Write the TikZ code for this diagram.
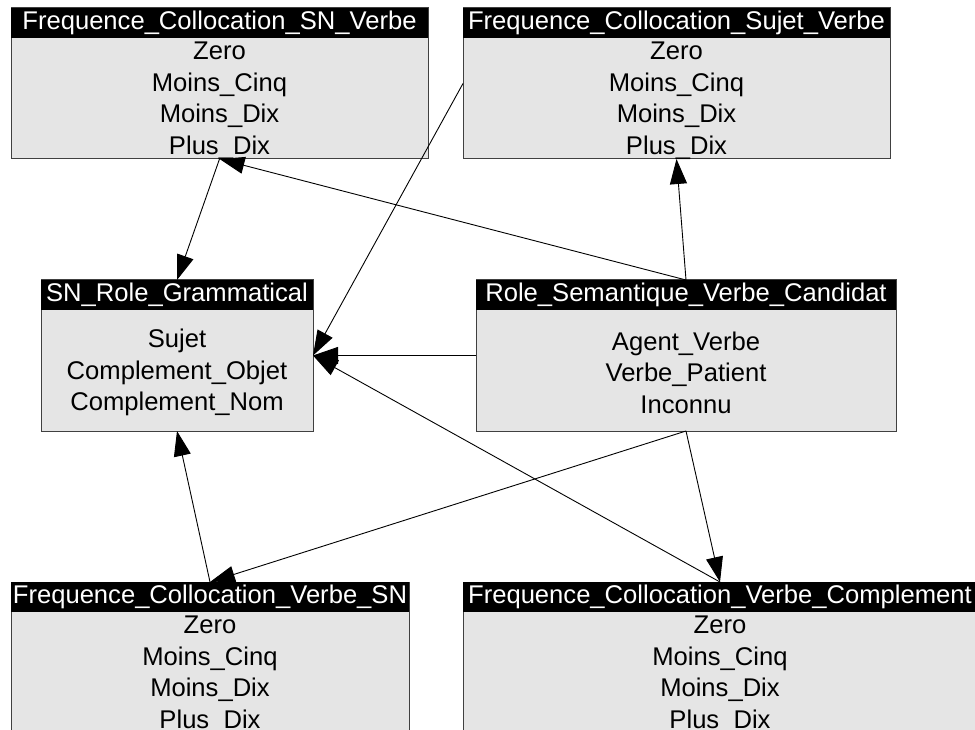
\documentclass[tikz,border=0pt]{standalone}
\usepackage{fontspec}
\setmainfont{Liberation Sans}
\usetikzlibrary{positioning,arrows.meta}
\definecolor{tabgris}{RGB}{229,229,229}
\begin{document}
\begin{tikzpicture}[x=1pt, y=-1pt,
		tab/.style={draw=black!75, fill=tabgris, line width=1pt, minimum height=151pt, inner sep=0pt, outer sep=0pt},
		titre/.style={fill=black, text=white, minimum height=30pt, inner sep=0pt, font=\fontsize{25.6}{31.6}\selectfont},
		valeurs/.style={minimum height=121pt, inner sep=0pt, align=center, font=\fontsize{25.6}{31.6}\selectfont},
		fleche/.style={line width=0.9pt, -{Triangle[length=25pt, width=17pt]}}]
		\useasboundingbox (0,0) rectangle (975,730);
		%tables
		\node[tab, minimum width=417] (snverbe) at (219.5,83.5) {};
		\node[titre, minimum width=417, below=0pt of snverbe.north] (snverbe-t) {Frequence\_Collocation\_SN\_Verbe};
		\node[valeurs, below=1.5pt of snverbe-t] {Zero\\Moins\_Cinq\\Moins\_Dix\\Plus\_Dix};
		%
		\node[tab, minimum width=427] (sujverbe) at (676.5,83.5) {};
		\node[titre, minimum width=427, below=0pt of sujverbe.north] (sujverbe-t) {Frequence\_Collocation\_Sujet\_Verbe};
		\node[valeurs, below=1.5pt of sujverbe-t] {Zero\\Moins\_Cinq\\Moins\_Dix\\Plus\_Dix};
		%
		\node[tab, minimum width=272] (snrole) at (177,355.5) {};
		\node[titre, minimum width=272, below=0pt of snrole.north] (snrole-t) {SN\_Role\_Grammatical};
		\node[valeurs, below=1.5pt of snrole-t] {Sujet\\Complement\_Objet\\Complement\_Nom};
		%
		\node[tab, minimum width=420] (rolesem) at (686,355.5) {};
		\node[titre, minimum width=420, below=0pt of rolesem.north] (rolesem-t) {Role\_Semantique\_Verbe\_Candidat};
		\node[valeurs, below=1.5pt of rolesem-t] {Agent\_Verbe\\Verbe\_Patient\\Inconnu};
		%
		\node[tab, minimum width=398] (verbesn) at (210,657.5) {};
		\node[titre, minimum width=398, below=0pt of verbesn.north] (verbesn-t) {Frequence\_Collocation\_Verbe\_SN};
		\node[valeurs, below=1.5pt of verbesn-t] {Zero\\Moins\_Cinq\\Moins\_Dix\\Plus\_Dix};
		%
		\node[tab, minimum width=514] (verbecomp) at (720,657.5) {};
		\node[titre, minimum width=514, below=0pt of verbecomp.north] (verbecomp-t) {Frequence\_Collocation\_Verbe\_Complement};
		\node[valeurs, below=1.5pt of verbecomp-t] {Zero\\Moins\_Cinq\\Moins\_Dix\\Plus\_Dix};
		%liens
		\draw[fleche] (snverbe.south) -- (snrole.north);
		\draw[fleche] (rolesem.north) -- (snverbe.south);
		\draw[fleche] (rolesem.north) -- (sujverbe.south);
		\draw[fleche] (sujverbe.west) -- (snrole.east);
		\draw[fleche] (rolesem.west) -- (snrole.east);
		\draw[fleche] (verbecomp.north) -- (snrole.east);
		\draw[fleche] (rolesem.south) -- (verbesn.north);
		\draw[fleche] (verbesn.north) -- (snrole.south);
		\draw[fleche] (rolesem.south) -- (verbecomp.north);
	\end{tikzpicture}
\end{document}
